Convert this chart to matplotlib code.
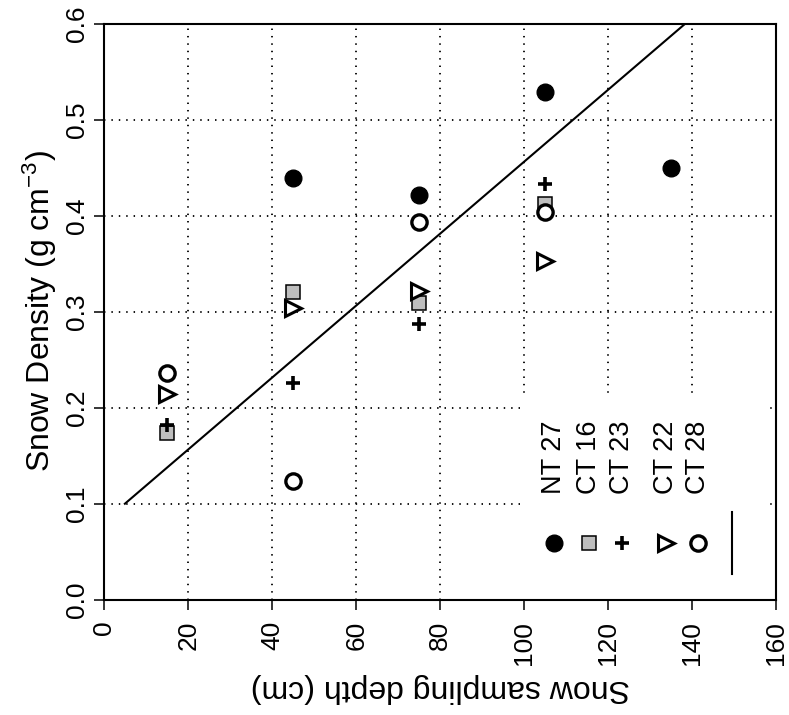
import matplotlib
matplotlib.use("Agg")
import matplotlib.pyplot as plt
from matplotlib.patches import Rectangle

plt.rcParams["font.family"] = ["Liberation Sans", "DejaVu Sans"]
plt.rcParams["mathtext.fontset"] = "custom"
plt.rcParams["mathtext.rm"] = "Liberation Sans"
plt.rcParams["mathtext.it"] = "Liberation Sans:italic"

# Snow density (g cm^-3) by sampling depth (cm) for each site
series_names = ["NT 27", "CT 16", "CT 23", "CT 22", "CT 28"]
nt27_depth = [45, 75, 105, 135]
nt27_density = [0.439, 0.422, 0.529, 0.450]
ct16_depth = [15, 45, 75, 105]
ct16_density = [0.174, 0.321, 0.309, 0.412]
ct23_depth = [15, 45, 75, 105]
ct23_density = [0.182, 0.226, 0.287, 0.433]
ct22_depth = [15, 45, 75, 105]
ct22_density = [0.214, 0.304, 0.322, 0.353]
ct28_depth = [15, 45, 75, 105]
ct28_density = [0.236, 0.124, 0.393, 0.404]

# Fitted trend line: density = intercept + slope * depth
fit_intercept = 0.0816
fit_slope = 0.003748
fit_depth_range = [4.9, 145]

x_ticks = [0, 20, 40, 60, 80, 100, 120, 140, 160]
y_ticks = [0.0, 0.1, 0.2, 0.3, 0.4, 0.5, 0.6]

styles = [
    dict(marker="o", ms=12, mfc="black", mec="black", mew=1.0),
    dict(marker="s", ms=10.5, mfc="#bebebe", mec="black", mew=1.1),
    dict(marker="+", ms=9.5, mfc="none", mec="black", mew=2.6),
    dict(marker=">", ms=11.5, mfc="white", mec="black", mew=2.2),
    dict(marker="o", ms=11, mfc="white", mec="black", mew=2.4),
]
series = [
    (nt27_depth, nt27_density),
    (ct16_depth, ct16_density),
    (ct23_depth, ct23_density),
    (ct22_depth, ct22_density),
    (ct28_depth, ct28_density),
]

W, H = 789, 715
fig = plt.figure(figsize=(W / 100, H / 100), dpi=100)
ax = fig.add_axes([104.3 / W, 1 - 599.7 / H, 672 / W, 576 / H])
ax.set_xlim(0, 160)
ax.set_ylim(0, 0.6)

# Dotted reference grid
for xv in x_ticks[1:-1]:
    ax.axvline(xv, color="black", lw=1.3, ls=(0, (0.8, 3.3)), zorder=0.5)
for yv in y_ticks[1:-1]:
    ax.axhline(yv, color="black", lw=1.3, ls=(0, (0.8, 3.3)), zorder=0.5)

# Legend panel background
ax.add_patch(Rectangle((0.619, 0.0), 0.364, 0.35, transform=ax.transAxes,
                       facecolor="white", edgecolor="none", zorder=1))

# Trend line
fx = fit_depth_range
fy = [fit_intercept + fit_slope * v for v in fx]
ax.plot(fx, fy, color="black", lw=1.5, zorder=2)

# Site data
for (xs, ys), st in zip(series, styles):
    ax.plot(xs, ys, ls="none", zorder=3, **st)

# Legend: markers in a row with vertical labels above them
leg_x = [0.669, 0.721, 0.770, 0.836, 0.883]
for lx, name, st in zip(leg_x, series_names, styles):
    ax.plot([lx], [0.098], ls="none", transform=ax.transAxes, zorder=3,
            clip_on=False, **st)
    ax.text(lx, 0.1835, name, rotation=90, ha="center", va="bottom",
            fontsize=19.5, transform=ax.transAxes, zorder=3)
ax.plot([0.934, 0.934], [0.045, 0.152], color="black", lw=1.5,
        transform=ax.transAxes, zorder=3)

for sp in ax.spines.values():
    sp.set_linewidth(1.5)

ax.set_xticks(x_ticks)
ax.set_yticks(y_ticks)
ax.set_xticklabels([str(v) for v in x_ticks], rotation=90, va="top", ha="center")
ax.set_yticklabels([f"{v:.1f}" for v in y_ticks], rotation=90, va="center", ha="right")
ax.tick_params(axis="both", direction="out", length=7.2, width=1.1,
               labelsize=19, top=False, right=False)
ax.tick_params(axis="x", pad=8)
ax.tick_params(axis="y", pad=4)

fig.text(40 / W, 1 - 311 / H, "Snow Density (g cm$^{-3}$)", rotation=90,
         ha="center", va="center", fontsize=23)
fig.text(440 / W, 1 - 688 / H, "Snow sampling depth (cm)", rotation=180,
         ha="center", va="center", fontsize=23)

fig.savefig("out.png", dpi=100)
